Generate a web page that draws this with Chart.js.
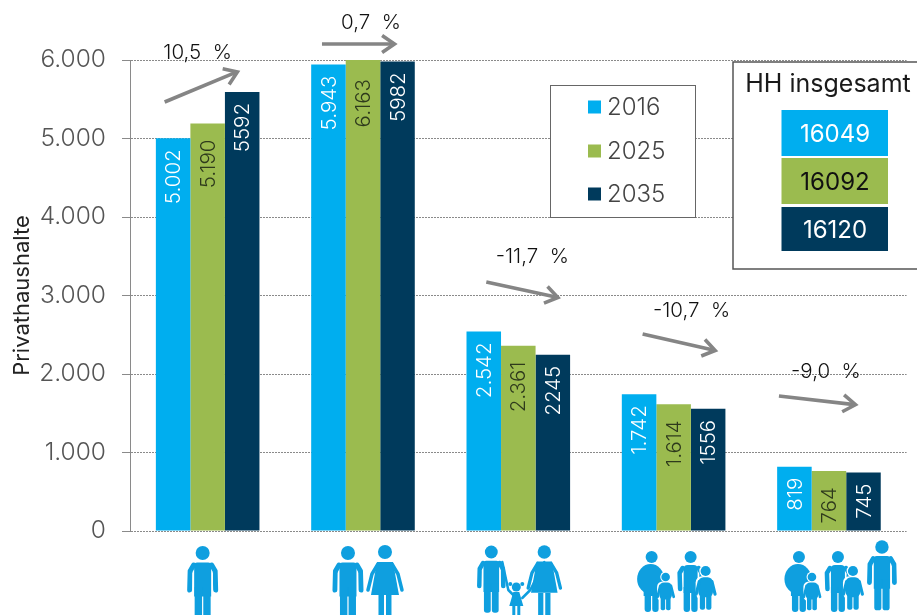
<!DOCTYPE html>
<html><head><meta charset="utf-8">
<style>html,body{margin:0;padding:0;background:#fff}canvas{display:block}</style>
<script src="https://cdn.jsdelivr.net/npm/chart.js@4/dist/chart.umd.min.js"></script>
</head><body>
<div style="width:917px;height:615px"><canvas id="c" width="917" height="615"></canvas></div>
<script>
const categories = ['1 Person','2 Personen','3 Personen','4 Personen','5+ Personen'];
const years = ['2016','2025','2035'];
const values2016 = [5002,5943,2542,1742,819];
const values2025 = [5190,6163,2361,1614,764];
const values2035 = [5592,5982,2245,1556,745];
const labels2016 = ['5.002','5.943','2.542','1.742','819'];
const labels2025 = ['5.190','6.163','2.361','1.614','764'];
const labels2035 = ['5592','5982','2245','1556','745'];
const yTicks = [0,1000,2000,3000,4000,5000,6000];
const tickLabels = ['0','1.000','2.000','3.000','4.000','5.000','6.000'];
const changes = ['10,5  %','0,7  %','-11,7  %','-10,7  %','-9,0  %'];
const totalsTitle = 'HH insgesamt';
const totals = ['16049','16092','16120'];

const BLUE='#00aeef', GREEN='#9bbb4f', NAVY='#003a5c', ICON='#0f9fdf';
const FONT='Inter, Lato, sans-serif';
const LIGHT='300 ';

function arrow(ctx,x1,y1,x2,y2){
  const a=Math.atan2(y2-y1,x2-x1), L=15, w=0.6;
  x2-=2.5*Math.cos(a);y2-=2.5*Math.sin(a);
  ctx.save();ctx.strokeStyle='#858585';ctx.lineWidth=3.6;ctx.lineCap='butt';ctx.lineJoin='miter';
  ctx.beginPath();ctx.moveTo(x1,y1);ctx.lineTo(x2-1,y2-0.5*Math.sin(a));ctx.stroke();
  ctx.beginPath();
  ctx.moveTo(x2-L*Math.cos(a-w),y2-L*Math.sin(a-w));
  ctx.lineTo(x2,y2);
  ctx.lineTo(x2-L*Math.cos(a+w),y2-L*Math.sin(a+w));
  ctx.stroke();ctx.restore();
}
function rr(ctx,x,y,w,h,r){ctx.beginPath();ctx.roundRect(x,y,w,h,r);ctx.fill();}
function limb(ctx,pts,lw){ctx.lineWidth=lw;ctx.lineCap='round';ctx.lineJoin='round';ctx.beginPath();pts.forEach((p,i)=>i?ctx.lineTo(p[0],p[1]):ctx.moveTo(p[0],p[1]));ctx.stroke();}
function man(ctx,x,y,k){
  ctx.beginPath();ctx.arc(x,y,7*k,0,7);ctx.fill();
  rr(ctx,x-8.5*k,y+9.5*k,17*k,34*k,[3*k,3*k,0,0]);
  limb(ctx,[[x-9*k,y+12*k],[x-12.5*k,y+18*k],[x-13*k,y+37*k]],5*k);
  limb(ctx,[[x+9*k,y+12*k],[x+12.5*k,y+18*k],[x+13*k,y+37*k]],5*k);
  rr(ctx,x-8*k,y+34*k,7.4*k,32*k,[0,0,3*k,3*k]);
  rr(ctx,x+0.6*k,y+34*k,7.4*k,32*k,[0,0,3*k,3*k]);
  ctx.save();ctx.strokeStyle='#fff';limb(ctx,[[x-9.8*k,y+20*k],[x-9.8*k,y+40*k]],1*k);limb(ctx,[[x+9.8*k,y+20*k],[x+9.8*k,y+40*k]],1*k);ctx.restore();
}
function woman(ctx,x,y,k){
  ctx.beginPath();ctx.arc(x,y,7*k,0,7);ctx.fill();
  ctx.beginPath();ctx.moveTo(x-8*k,y+10*k);ctx.lineTo(x+8*k,y+10*k);ctx.lineTo(x+14*k,y+43*k);ctx.lineTo(x-14*k,y+43*k);ctx.closePath();ctx.fill();
  limb(ctx,[[x-7*k,y+12*k],[x-13*k,y+22*k],[x-17*k,y+38*k]],3.5*k);
  limb(ctx,[[x+7*k,y+12*k],[x+13*k,y+22*k],[x+17*k,y+38*k]],3.5*k);
  rr(ctx,x-6.5*k,y+43*k,5.5*k,24*k,0);
  rr(ctx,x+1*k,y+43*k,5.5*k,24*k,0);
}
function plump(ctx,x,y,k){
  ctx.beginPath();ctx.arc(x,y,6*k,0,7);ctx.fill();
  ctx.beginPath();ctx.ellipse(x-1*k,y+22*k,13.5*k,15*k,0,0,7);ctx.fill();
  rr(ctx,x-8*k,y+33*k,16*k,6*k,0);
  rr(ctx,x-7*k,y+36*k,6.4*k,19*k,[0,0,3*k,3*k]);
  rr(ctx,x+0.6*k,y+36*k,6.4*k,19*k,[0,0,3*k,3*k]);
}
function slim(ctx,x,y,k){
  ctx.beginPath();ctx.arc(x,y,6*k,0,7);ctx.fill();
  rr(ctx,x-7*k,y+8*k,14*k,28*k,[4*k,4*k,0,0]);
  limb(ctx,[[x-8*k,y+11*k],[x-11*k,y+16*k],[x-10.5*k,y+32*k]],4.5*k);
  limb(ctx,[[x+8*k,y+11*k],[x+11*k,y+16*k],[x+10.5*k,y+32*k]],4.5*k);
  rr(ctx,x-7*k,y+30*k,6.4*k,25*k,[0,0,3*k,3*k]);
  rr(ctx,x+0.6*k,y+30*k,6.4*k,25*k,[0,0,3*k,3*k]);
}
function kid(ctx,x,y,k){
  ctx.save();ctx.strokeStyle='#fff';ctx.fillStyle='#fff';
  ctx.beginPath();ctx.arc(x,y,6*k,0,7);ctx.fill();
  rr(ctx,x-9.5*k,y+5*k,19*k,22*k,6*k);ctx.restore();
  ctx.beginPath();ctx.arc(x,y,4.8*k,0,7);ctx.fill();
  rr(ctx,x-7*k,y+6*k,14*k,19*k,5*k);
  limb(ctx,[[x-6*k,y+10*k],[x-9*k,y+22*k]],3*k);
  limb(ctx,[[x+6*k,y+10*k],[x+9*k,y+22*k]],3*k);
  rr(ctx,x-5.5*k,y+22*k,5*k,15*k,[0,0,2*k,2*k]);
  rr(ctx,x+0.5*k,y+22*k,5*k,15*k,[0,0,2*k,2*k]);
}
function girl(ctx,x,y){
  ctx.beginPath();ctx.arc(x,y,4.5,0,7);ctx.fill();
  ctx.beginPath();ctx.arc(x-6,y-3,2,0,7);ctx.arc(x+6,y-3,2,0,7);ctx.fill();
  ctx.beginPath();ctx.moveTo(x-3,y+5);ctx.lineTo(x+3,y+5);ctx.lineTo(x+7,y+19);ctx.lineTo(x-7,y+19);ctx.closePath();ctx.fill();
  rr(ctx,x-4,y+19,3,12,0);rr(ctx,x+1,y+19,3,12,0);
}

const overlay = {
  id:'overlay',
  afterDatasetsDraw(chart){
    const ctx=chart.ctx, xs=chart.scales.x;
    ctx.save();
    const sets=[labels2016,labels2025,labels2035];
    const inset=[11,16,11];
    chart.data.datasets.forEach((ds,di)=>{
      chart.getDatasetMeta(di).data.forEach((bar,i)=>{
        const p=bar.getProps(['x','y','base'],true);
        ctx.save();
        const over=p.y<chart.chartArea.top;
        const anchor=over?chart.chartArea.top+19:p.y+inset[di];
        ctx.translate(p.x,anchor);ctx.rotate(-Math.PI/2);
        ctx.font=LIGHT+'20.5px '+FONT;
        ctx.fillStyle=di===1?'#2e3a1c':'#fff';
        ctx.textBaseline='middle';ctx.textAlign='right';
        ctx.fillText(sets[di][i],0,1);
        ctx.restore();
      });
    });
    const ann=[[-43,102,32,71,-10,53],[-41,44,34,44,8,23],[-32,282,42,298,14,257],[-31,334,44,351,18,311],[-50,396,29,405,-3,372]];
    ann.forEach((a,i)=>{
      const cx=xs.getPixelForValue(i);
      arrow(ctx,cx+a[0],a[1],cx+a[2],a[3]);
      ctx.fillStyle='#111';ctx.font='300 20.5px '+FONT;ctx.textAlign='center';ctx.textBaseline='middle';
      ctx.fillText(changes[i],cx+a[4],a[5]);
    });
    ctx.fillStyle='#fff';ctx.fillRect(550,85,145,132);
    ctx.strokeStyle='#666';ctx.lineWidth=1;ctx.strokeRect(550.5,85.5,145,132);
    [107,151,194].forEach((y,i)=>{
      ctx.fillStyle=[BLUE,GREEN,NAVY][i];ctx.fillRect(588,y-6.5,13,13);
      ctx.fillStyle='#444';ctx.font=LIGHT+'24px '+FONT;ctx.textAlign='left';ctx.textBaseline='middle';
      ctx.fillText(years[i],607,y+1);
    });
    ctx.fillStyle='#fff';ctx.fillRect(733,62,190,207);
    ctx.strokeStyle='#555';ctx.lineWidth=1.5;ctx.strokeRect(733,62,190,207);
    ctx.fillStyle='#1a1a1a';ctx.font='400 25px '+FONT;ctx.textAlign='center';ctx.textBaseline='middle';
    ctx.fillText(totalsTitle,828,84);
    [[110,46,BLUE,'#fff'],[158,46,GREEN,'#111'],[207,44,NAVY,'#fff']].forEach((r,i)=>{
      ctx.fillStyle=r[2];ctx.fillRect(781.5,r[0],106.5,r[1]);
      ctx.fillStyle=r[3];ctx.font='400 24px '+FONT;ctx.fillText(totals[i],835,r[0]+r[1]/2+1.5);
    });
    ctx.fillStyle=ICON;ctx.strokeStyle=ICON;
    const c=i=>xs.getPixelForValue(i);
    man(ctx,c(0)-5,553,1);
    man(ctx,c(1)-15,553,1);woman(ctx,c(1)+22,552,1);
    man(ctx,c(2)-27,552,.92);
    limb(ctx,[[c(2)-16,562],[c(2)-10,590],[c(2)-2,598]],2.5);
    limb(ctx,[[c(2)+26,562],[c(2)+12,590],[c(2)+4,598]],2.5);
    woman(ctx,c(2)+26,552,.95);girl(ctx,c(2)-2,587);
    plump(ctx,c(3)-22,557,1);kid(ctx,c(3)-8,577,.9);slim(ctx,c(3)+17,557,1);kid(ctx,c(3)+32,571,1.05);
    plump(ctx,c(4)-30,557,1);kid(ctx,c(4)-17,577,.9);slim(ctx,c(4)+9,557,1);kid(ctx,c(4)+24,571,1.05);man(ctx,c(4)+53,547,.96);
    ctx.restore();
  }
};

new Chart(document.getElementById('c'),{
  type:'bar',
  data:{labels:categories,datasets:[
    {label:years[0],data:values2016,backgroundColor:BLUE},
    {label:years[1],data:values2025,backgroundColor:GREEN},
    {label:years[2],data:values2035,backgroundColor:NAVY}
  ]},
  options:{
    responsive:false,animation:false,
    layout:{padding:{left:0,top:60,right:10.4,bottom:84}},
    plugins:{legend:{display:false},tooltip:{enabled:false},title:{display:false}},
    datasets:{bar:{categoryPercentage:0.667,barPercentage:1,borderWidth:0}},
    scales:{
      x:{grid:{display:false},border:{display:false},ticks:{display:false},afterFit(s){s.height=0;}},
      y:{min:0,max:6000,
        afterBuildTicks(s){s.ticks=yTicks.map(v=>({value:v}));},
        afterFit(s){s.width=130;},
        grid:{color:'#8a8a8a',lineWidth:1,tickLength:8,tickColor:'#8a8a8a'},
        border:{color:'#8a8a8a',dash:[2,1],display:true},
        ticks:{font:{family:FONT,size:24.5,weight:'300'},color:'#555',padding:16,
          callback:(v)=>tickLabels[yTicks.indexOf(v)]},
        title:{display:true,text:'Privathaushalte',color:'#222',font:{family:FONT,size:22,weight:'400'},padding:{top:9,bottom:0}}
      }
    }
  },
  plugins:[overlay]
});
</script>
</body></html>
